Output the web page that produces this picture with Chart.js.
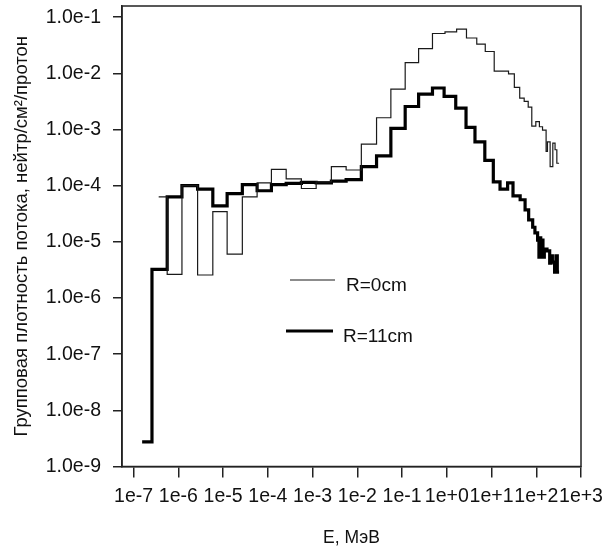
<!DOCTYPE html>
<html>
<head>
<meta charset="utf-8">
<script src="https://cdn.jsdelivr.net/npm/chart.js@4/dist/chart.umd.min.js"></script>
<style>
  html, body { margin: 0; background: #fff; }
</style>
</head>
<body>
<canvas id="fluxChart" width="605" height="549"></canvas>
<script>
// Group flux spectra, log10 values: bin edges are lg(E, MeV), one flux value per bin
const thinLabel = "R=0cm";
const thinEdgeLg = [
  -6.44, -6.25, -5.92, -5.57, -5.23, -4.91, -4.57, -4.24, -3.92, -3.59,
  -3.25, -2.92, -2.58, -2.25, -1.91, -1.57, -1.25, -0.93, -0.63, -0.32,
  -0.04, 0.22, 0.44, 0.67, 0.86, 1.06, 1.38, 1.51, 1.63, 1.73,
  1.82, 1.90, 1.99, 2.07, 2.14, 2.22, 2.25, 2.31, 2.37, 2.42,
  2.46, 2.51,
];
const thinFluxLg = [
  -4.20, -5.58, -4.00, -5.59, -4.46, -5.22, -4.20, -3.95, -3.71, -3.88,
  -4.05, -3.93, -3.66, -3.72, -3.26, -2.79, -2.28, -1.81, -1.56, -1.29,
  -1.26, -1.21, -1.37, -1.48, -1.61, -1.96, -2.01, -2.25, -2.44, -2.50,
  -2.60, -2.94, -2.86, -2.95, -3.01, -3.39, -3.22, -3.66, -3.24, -3.36,
  -3.60,
];

const thickLabel = "R=11cm";
const thickEdgeLg = [
  -6.81, -6.59, -6.25, -5.92, -5.57, -5.23, -4.91, -4.57, -4.24, -3.92,
  -3.59, -3.25, -2.92, -2.58, -2.25, -1.91, -1.57, -1.25, -0.93, -0.63,
  -0.32, -0.06, 0.20, 0.43, 0.63, 0.85, 1.04, 1.19, 1.36, 1.48,
  1.64, 1.75, 1.83, 1.92, 1.97, 2.03, 2.06, 2.08, 2.10, 2.13,
  2.15, 2.18, 2.24, 2.30, 2.33, 2.36, 2.41, 2.44, 2.47, 2.51,
];
const thickFluxLg = [
  -8.56, -5.49, -4.20, -4.00, -4.06, -4.36, -4.14, -3.98, -4.09, -3.98,
  -3.96, -3.94, -3.95, -3.92, -3.89, -3.66, -3.47, -2.98, -2.59, -2.37,
  -2.26, -2.41, -2.62, -2.96, -3.22, -3.55, -3.93, -4.06, -3.95, -4.18,
  -4.25, -4.43, -4.61, -4.74, -4.84, -4.97, -5.27, -4.93, -5.25, -4.97,
  -5.27, -5.13, -5.16, -5.38, -5.25, -5.36, -5.54, -5.25, -5.54,
];

// axis decades
const energyDecades = [-7, -6, -5, -4, -3, -2, -1, 0, 1, 2, 3];
const fluxDecades = [-9, -8, -7, -6, -5, -4, -3, -2, -1];

const FONT = '"Liberation Sans", Arial, Helvetica, sans-serif';
const INK = "#111";
const AXIS_COLOR = "#222";

Chart.defaults.font.family = FONT;
Chart.defaults.color = INK;

function stepPoints(edges, values) {
  const points = values.map((v, i) => ({ x: 10 ** edges[i], y: 10 ** v }));
  points.push({ x: 10 ** edges[edges.length - 1], y: 10 ** values[values.length - 1] });
  return points;
}

function decadeTicks(powers) {
  return powers.map(p => ({ value: Number(`1e${p}`) }));
}

// fixed axis boxes so the plot area does not shrink for overhanging labels
function fixBox(axis, size) {
  if (axis.isHorizontal()) axis.height = size;
  else axis.width = size;
  axis.paddingTop = 0;
  axis.paddingBottom = 0;
  axis.paddingLeft = 0;
  axis.paddingRight = 0;
}

// box around the plot plus the legend inside it
const frameAndLegend = {
  id: "frameAndLegend",
  afterDatasetsDraw(chart) {
    const { ctx, chartArea: area } = chart;
    ctx.save();
    ctx.strokeStyle = AXIS_COLOR;
    ctx.lineWidth = 1.5;
    ctx.strokeRect(area.left, area.top, area.right - area.left, area.bottom - area.top);

    const rows = [
      { ds: chart.data.datasets[0], x0: 168, x1: 213, lineY: 274, textX: 224, textY: 280 },
      { ds: chart.data.datasets[1], x0: 164, x1: 211, lineY: 325, textX: 221, textY: 331 },
    ];
    ctx.font = `19px ${FONT}`;
    ctx.textBaseline = "middle";
    ctx.textAlign = "left";
    rows.forEach(row => {
      ctx.strokeStyle = row.ds.borderColor;
      ctx.lineWidth = row.ds.borderWidth;
      ctx.beginPath();
      ctx.moveTo(area.left + row.x0, area.top + row.lineY);
      ctx.lineTo(area.left + row.x1, area.top + row.lineY);
      ctx.stroke();
      ctx.fillStyle = INK;
      ctx.fillText(row.ds.label, area.left + row.textX, area.top + row.textY);
    });
    ctx.restore();
  },
};

new Chart(document.getElementById("fluxChart"), {
  type: "line",
  data: {
    datasets: [
      {
        label: thinLabel,
        data: stepPoints(thinEdgeLg, thinFluxLg),
        borderColor: "#1a1a1a",
        borderWidth: 1.2,
        stepped: true,
        pointRadius: 0,
        fill: false,
      },
      {
        label: thickLabel,
        data: stepPoints(thickEdgeLg, thickFluxLg),
        borderColor: "#000",
        borderWidth: 3.2,
        stepped: true,
        pointRadius: 0,
        fill: false,
      },
    ],
  },
  options: {
    responsive: false,
    animation: false,
    layout: { padding: { top: 6, right: 24, bottom: 0, left: 0 } },
    plugins: {
      legend: { display: false },
      tooltip: { enabled: false },
    },
    scales: {
      x: {
        type: "logarithmic",
        position: "bottom",
        min: 10 ** -7.26,
        max: 1000,
        afterBuildTicks: axis => { axis.ticks = decadeTicks(energyDecades); },
        afterFit: axis => fixBox(axis, 82.5),
        grid: { drawOnChartArea: false, tickLength: 11, color: AXIS_COLOR, lineWidth: 1.5 },
        border: { display: true, color: AXIS_COLOR, width: 1.5 },
        ticks: {
          autoSkip: false,
          maxRotation: 0,
          minRotation: 0,
          padding: 7,
          color: INK,
          font: { size: 19.5 },
          callback: value => Number(value).toExponential(0),
        },
        title: {
          display: true,
          text: "E, МэВ",
          color: INK,
          font: { size: 17.5 },
          padding: { top: 0, bottom: 0 },
        },
      },
      y: {
        type: "logarithmic",
        position: "left",
        min: 1e-9,
        max: 10 ** -0.8,
        afterBuildTicks: axis => { axis.ticks = decadeTicks(fluxDecades); },
        afterFit: axis => fixBox(axis, 122),
        grid: { drawOnChartArea: false, tickLength: 9, color: AXIS_COLOR, lineWidth: 1.5 },
        border: { display: true, color: AXIS_COLOR, width: 1.5 },
        ticks: {
          autoSkip: false,
          padding: 12,
          color: INK,
          font: { size: 19.5 },
          callback: value => Number(value).toExponential(1),
        },
        title: {
          display: true,
          text: "Групповая плотность потока, нейтр/см²/протон",
          color: INK,
          font: { size: 18.5 },
          padding: { top: 11, bottom: 0 },
        },
      },
    },
  },
  plugins: [frameAndLegend],
});
</script>
</body>
</html>
